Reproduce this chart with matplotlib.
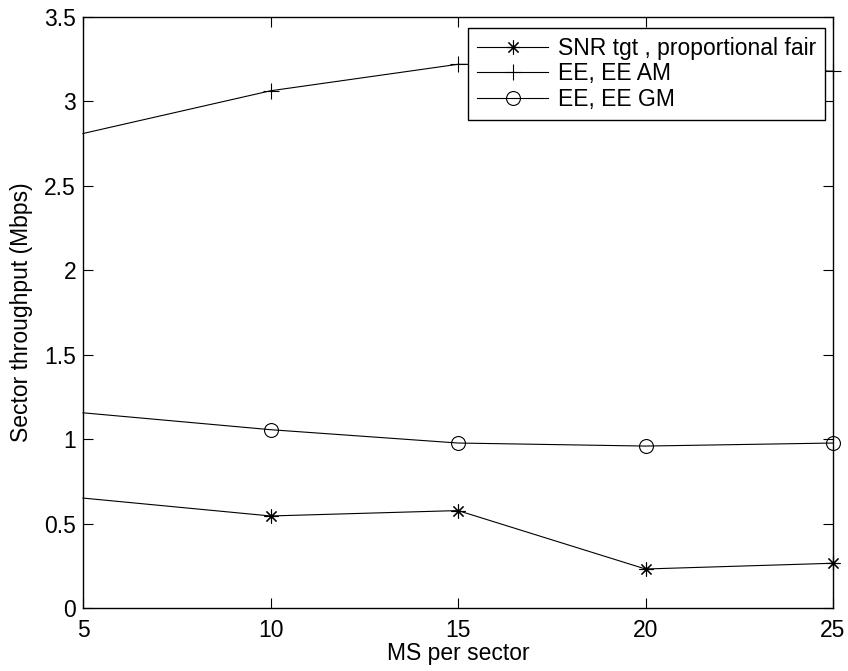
import matplotlib
matplotlib.use('Agg')
import matplotlib.pyplot as plt

# data
ms_per_sector = [5, 10, 15, 20, 25]
snr_pf = [0.651, 0.545, 0.577, 0.231, 0.265]
ee_am = [2.81, 3.063, 3.22, 3.21, 3.179]
ee_gm = [1.156, 1.056, 0.977, 0.959, 0.977]

labels = ['SNR tgt , proportional fair', 'EE, EE AM', 'EE, EE GM']
x_ticks = [5, 10, 15, 20, 25]
y_ticks = [0, 0.5, 1, 1.5, 2, 2.5, 3, 3.5]

plt.rcParams['font.family'] = ['Liberation Sans', 'DejaVu Sans']
plt.rcParams['font.size'] = 16.5

fig = plt.figure(figsize=(8.48, 6.71), dpi=100)
ax = fig.add_axes([83 / 848, 63 / 671, 750 / 848, 591 / 671])

# the reference shows no marker at the first point
style = dict(color='black', linewidth=0.8, markevery=slice(1, None),
             markerfacecolor='none', markeredgecolor='black', clip_on=False)
ax.plot(ms_per_sector, snr_pf, marker=(8, 2, 0), markersize=10,
        markeredgewidth=0.8, label=labels[0], **style)
ax.plot(ms_per_sector, ee_am, marker='+', markersize=12,
        markeredgewidth=0.8, label=labels[1], **style)
ax.plot(ms_per_sector, ee_gm, marker='o', markersize=10,
        markeredgewidth=0.8, label=labels[2], **style)

ax.set_xlim(5, 25)
ax.set_ylim(0, 3.5)
ax.set_xticks(x_ticks)
ax.set_yticks(y_ticks)
ax.set_yticklabels(['0', '0.5', '1', '1.5', '2', '2.5', '3', '3.5'])
ax.tick_params(direction='in', length=7, width=0.8, top=True, right=True)
ax.tick_params(axis='x', pad=8)
ax.tick_params(axis='y', pad=5)
for s in ax.spines.values():
    s.set_linewidth(1.0)

ax.set_xlabel('MS per sector', labelpad=0)
ax.set_ylabel('Sector throughput (Mbps)', labelpad=8)

leg = ax.legend(loc='upper right', bbox_to_anchor=(0.9893, 0.9814),
                borderaxespad=0, fancybox=False, framealpha=1,
                edgecolor='black', handlelength=3.1, handletextpad=0.4,
                borderpad=0.4, labelspacing=0.1)
leg.get_frame().set_linewidth(1.0)

fig.savefig('out.png', dpi=100)
